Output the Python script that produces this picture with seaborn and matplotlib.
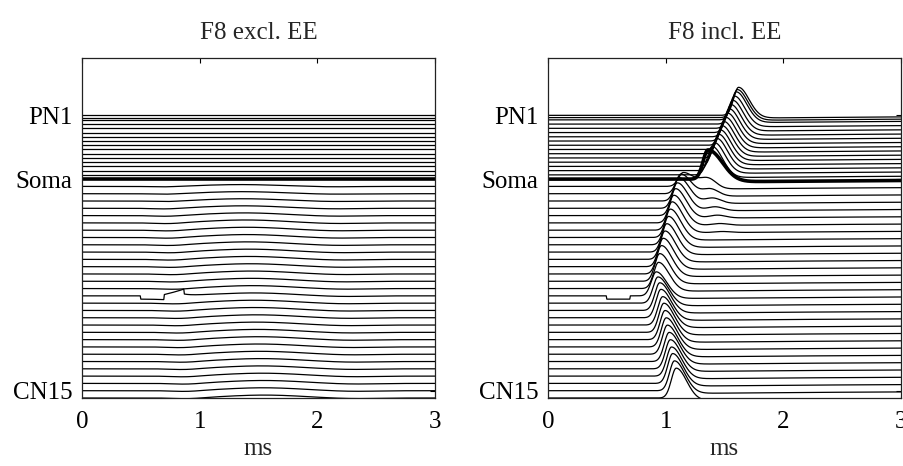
import numpy as np
import pandas as pd
import matplotlib
matplotlib.use("Agg")
import matplotlib.pyplot as plt
import seaborn as sns

# ---------------------------------------------------------------------------
# Compartment layout (top to bottom): 16 peripheral traces, soma, 30 central
# ---------------------------------------------------------------------------
panel_titles = ["F8 excl. EE", "F8 incl. EE"]
ytick_names = ["PN1", "Soma", "CN15"]
ytick_index = [0, 16, 45]          # trace index carrying each label
soma_index = 16
stim_index = 32                    # compartment next to the electrode

# vertical gap between neighbouring baselines (units of the central spacing)
gaps = [0.31, 0.31] + [0.58] * 14 + [1.0] * 30

# time axis (ms)
t = np.round(np.arange(0.0, 3.0 + 1e-9, 0.005), 4)

# --- including EE: propagated action potential -----------------------------
spike_time = [1.62, 1.61, 1.60, 1.585, 1.57, 1.555, 1.54, 1.525, 1.51, 1.495,
              1.48, 1.465, 1.45, 1.435, 1.415, 1.395,
              1.36,
              1.15, 1.13, 1.115, 1.10, 1.085, 1.07, 1.055, 1.04, 1.025, 1.01,
              0.995, 0.98, 0.965, 0.95, 0.94,
              0.92,
              0.935, 0.95, 0.96, 0.975, 0.985, 0.995, 1.005, 1.015, 1.03, 1.04,
              1.05, 1.06, 1.075, 1.09]
spike_amp = [3.85, 3.85, 3.85, 3.85, 3.85, 3.85, 3.85, 3.85, 3.85, 3.85,
             3.85, 3.85, 3.85, 3.85, 3.85, 3.9,
             4.0,
             1.9, 2.7, 3.2, 3.5, 3.7, 3.8, 3.9, 3.9, 3.9, 3.9,
             3.9, 3.9, 3.9, 3.8, 3.6,
             3.3,
             3.6, 3.8, 3.9, 3.9, 4.0, 4.0, 4.0, 4.0, 4.0, 4.0,
             4.0, 4.1, 4.1, 4.1]
# second (somatic) hump seen in the first central compartments
echo_time = [1.36, 1.38, 1.40, 1.42, 1.44, 1.46, 1.48]
echo_amp = [1.4, 1.0, 0.75, 0.55, 0.4, 0.25, 0.15]

# --- excluding EE: subthreshold wave in the central compartments ------------
wave_center = [1.35, 1.36, 1.37, 1.37, 1.38, 1.39, 1.40, 1.40, 1.41, 1.42,
               1.42, 1.43, 1.44, 1.44, 1.45, 1.46, 1.46, 1.47, 1.48, 1.48,
               1.49, 1.50, 1.50, 1.51, 1.52, 1.52, 1.53, 1.54, 1.54, 1.55]
wave_amp = [0.25, 0.28, 0.31, 0.34, 0.37, 0.4, 0.4, 0.4, 0.4, 0.4,
            0.4, 0.4, 0.4, 0.4, 0.4, 0.4, 0.4, 0.4, 0.4, 0.4,
            0.4, 0.4, 0.4, 0.4, 0.4, 0.4, 0.4, 0.4, 0.4, 0.4]

# biphasic pulse at the electrode: (start, switch, end) in ms and levels
pulse_times = [0.5, 0.7, 0.87]
pulse_levels = [-0.45, 0.25, 1.0]

n_traces = len(gaps) + 1
baseline = np.concatenate([np.cumsum(gaps[::-1])[::-1], [0.0]])


def spike(tp, amp, rise=0.042, decay=0.085, ahp=0.4):
    up = np.exp(-0.5 * ((t - tp) / rise) ** 2)
    down = np.exp(-0.5 * ((t - tp) / decay) ** 2)
    s = amp * np.where(t < tp, up, down)
    gate = 1.0 / (1.0 + np.exp(-(t - tp - 0.16) / 0.04))
    return s - ahp * gate * np.exp(-np.clip(t - tp, 0, None) / 2.2)


def pulse():
    p = np.zeros_like(t)
    a, b, c = pulse_times
    p[(t >= a) & (t < b)] = pulse_levels[0]
    m = (t >= b) & (t < c)
    p[m] = pulse_levels[1] + (pulse_levels[2] - pulse_levels[1]) * (t[m] - b) / (c - b)
    return p


rows = []
for panel in range(2):
    for i in range(n_traces):
        v = np.zeros_like(t)
        if panel == 0:
            if i > soma_index:
                k = i - soma_index - 1
                c, a = wave_center[k], wave_amp[k]
                v += a * np.exp(-0.5 * ((t - c) / 0.32) ** 2)
                v -= 0.35 * a * np.exp(-0.5 * ((t - (c - 0.65)) / 0.12) ** 2)
                v -= 0.25 * a * np.exp(-0.5 * ((t - (c + 0.75)) / 0.2) ** 2)
            if i == stim_index:
                v += pulse()
                tail = (t >= pulse_times[2])
                v[tail] += 0.3 * np.exp(-(t[tail] - pulse_times[2]) / 0.08)
        else:
            decay = 0.12 if i == soma_index else 0.085
            v += spike(spike_time[i], spike_amp[i], decay=decay)
            k = i - soma_index - 1
            if 0 <= k < len(echo_amp):
                v += echo_amp[k] * np.exp(-0.5 * ((t - echo_time[k]) / 0.07) ** 2)
            if i == stim_index:
                p = pulse()
                p[t >= pulse_times[1]] = 0
                v += p
        rows.append(pd.DataFrame({"panel": panel, "trace": i, "t": t,
                                  "v": baseline[i] + v}))
df = pd.concat(rows, ignore_index=True)

sns.set_theme(style="white")
plt.rcParams["font.family"] = ["Liberation Serif", "DejaVu Serif"]
plt.rcParams["mathtext.fontset"] = "stix"

fig = plt.figure(figsize=(9.04, 4.66), dpi=100)
W, H = 904, 466
axes = [fig.add_axes([82 / W, 68 / H, 353 / W, 340 / H]),
        fig.add_axes([548 / W, 68 / H, 353 / W, 340 / H])]

for panel, ax in enumerate(axes):
    d = df[(df.panel == panel) & (df.trace != soma_index)]
    sns.lineplot(data=d, x="t", y="v", units="trace", estimator=None,
                 color="black", linewidth=0.9, ax=ax, legend=False)
    s = df[(df.panel == panel) & (df.trace == soma_index)]
    sns.lineplot(data=s, x="t", y="v", color="black", linewidth=2.6, ax=ax,
                 legend=False)
    ax.set_xlim(0, 3)
    ax.set_ylim(0, 46.6)
    ax.set_xticks([0, 1, 2, 3])
    ax.set_xticklabels(["0", "1", "2", "3"])
    ax.set_yticks([baseline[k] for k in ytick_index])
    ax.set_yticklabels(ytick_names)
    ax.tick_params(direction="in", length=3.5, width=0.8, top=True, right=True,
                   labelsize=18, colors="black", pad=7)
    ax.tick_params(axis="x", pad=9)
    for sp in ax.spines.values():
        sp.set_visible(True)
        sp.set_color("#222222")
        sp.set_linewidth(0.9)
    ax.set_xlabel("ms", fontsize=18, labelpad=4)
    ax.set_ylabel("")
    ax.set_title(panel_titles[panel], fontsize=18, pad=14)

fig.savefig("out.png", dpi=100, facecolor="white")
